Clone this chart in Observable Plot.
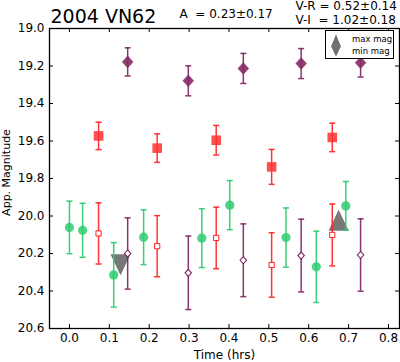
<!DOCTYPE html>
<html><head><meta charset="utf-8">
<script src="https://cdn.jsdelivr.net/npm/d3@7"></script>
<script src="https://cdn.jsdelivr.net/npm/@observablehq/plot@0.6"></script>
<style>
body{margin:0;background:#fff;}
#wrap{position:relative;width:400px;height:362px;font-family:"DejaVu Sans",sans-serif;}
#legend{position:absolute;left:325px;top:30px;width:67px;height:27px;border:1px solid #000;background:#fff;font-size:8.5px;}
#legend span{position:absolute;left:26px;white-space:nowrap;}
</style></head><body><div id="wrap"></div>
<script>
// ---- data ----
const title = "2004 VN62";
const ampText = "A\u00a0 = 0.23\u00b10.17";
const colorTexts = ["V-R = 0.52\u00b10.14", "V-I\u00a0 = 1.02\u00b10.18"];
const xLabel = "Time (hrs)";
const yLabel = "App. Magnitude";
const xTicks = [0.0, 0.1, 0.2, 0.3, 0.4, 0.5, 0.6, 0.7, 0.8];
const yTicks = [19.0, 19.2, 19.4, 19.6, 19.8, 20.0, 20.2, 20.4, 20.6];
const legendLabels = ["max mag", "min mag"];

// purple filled diamonds
const diamondT   = [0.146, 0.298, 0.436, 0.581, 0.730];
const diamondMag = [19.178, 19.279, 19.213, 19.187, 19.183];
const diamondErr = [0.075, 0.080, 0.080, 0.080, 0.076];
// red filled squares
const squareT   = [0.073, 0.220, 0.368, 0.507, 0.659];
const squareMag = [19.573, 19.638, 19.596, 19.738, 19.581];
const squareErr = [0.073, 0.076, 0.079, 0.093, 0.076];
// green circles
const circleT   = [0.000, 0.033, 0.111, 0.186, 0.332, 0.402, 0.543, 0.619, 0.693];
const circleMag = [20.061, 20.076, 20.314, 20.113, 20.118, 19.942, 20.115, 20.271, 19.946];
const circleErr = [0.140, 0.144, 0.172, 0.146, 0.157, 0.131, 0.158, 0.190, 0.130];
// red open squares
const openSqT   = [0.073, 0.220, 0.368, 0.507, 0.659];
const openSqMag = [20.093, 20.161, 20.117, 20.261, 20.101];
const openSqErr = [0.163, 0.163, 0.164, 0.172, 0.165];
// purple open diamonds
const openDT   = [0.146, 0.298, 0.436, 0.581, 0.730];
const openDMag = [20.200, 20.303, 20.236, 20.211, 20.208];
const openDErr = [0.190, 0.196, 0.194, 0.194, 0.193];
// max / min mag triangles
const maxT = [0.675], maxMag = [20.023];
const minT = [0.128], minMag = [20.260];

// ---- helpers ----
const rows = (t, m, e) => t.map((x, i) => ({t: x, mag: m[i], err: e ? e[i] : 0}));
const rad = s => Math.sqrt(s / Math.PI);
const capSym = {draw(c, s){const r = rad(s); c.moveTo(-r, 0); c.lineTo(r, 0);}};
const diamondSym = {draw(c, s){const r = rad(s); c.moveTo(0, -r*1.1); c.lineTo(r, 0); c.lineTo(0, r*1.1); c.lineTo(-r, 0); c.closePath();}};
const squareSym = {draw(c, s){const r = rad(s); c.rect(-r, -r, 2*r, 2*r);}};
const upSym = {draw(c, s){const r = rad(s); c.moveTo(0, -r*1.05); c.lineTo(r, r*1.05); c.lineTo(-r, r*1.05); c.closePath();}};
const downSym = {draw(c, s){const r = rad(s); c.moveTo(0, r*1.05); c.lineTo(r, -r*1.05); c.lineTo(-r, -r*1.05); c.closePath();}};

function errBars(data, color, op) {
  return [
    Plot.ruleX(data, {x: "t", y1: d => d.mag - d.err, y2: d => d.mag + d.err, stroke: color, strokeWidth: 1.5, strokeOpacity: op}),
    Plot.dot(data, {x: "t", y: d => d.mag - d.err, symbol: capSym, r: 3, fill: "none", stroke: color, strokeWidth: 1.5, strokeOpacity: op}),
    Plot.dot(data, {x: "t", y: d => d.mag + d.err, symbol: capSym, r: 3, fill: "none", stroke: color, strokeWidth: 1.5, strokeOpacity: op})
  ];
}

const green = "#2ecc71", red = "#ff1f1f", purple = "#7d1f5e", grey = "#707070";
const diamonds = rows(diamondT, diamondMag, diamondErr);
const squares = rows(squareT, squareMag, squareErr);
const circles = rows(circleT, circleMag, circleErr);
const openSq = rows(openSqT, openSqMag, openSqErr);
const openD = rows(openDT, openDMag, openDErr);

const chart = Plot.plot({
  width: 400, height: 362,
  marginLeft: 49, marginRight: 1, marginTop: 28, marginBottom: 34,
  style: {fontFamily: "DejaVu Sans", background: "white", color: "black", overflow: "visible"},
  x: {domain: [-0.05, 0.8276]},
  y: {domain: [19.0, 20.6], reverse: true},
  marks: [
    Plot.dot(rows(minT, minMag), {x: "t", y: "mag", symbol: downSym, r: 10, fill: grey, fillOpacity: 0.95}),
    Plot.dot(rows(maxT, maxMag), {x: "t", y: "mag", symbol: upSym, r: 10, fill: grey, fillOpacity: 0.95}),
    ...errBars(circles, green, 0.95),
    Plot.dot(circles, {x: "t", y: "mag", r: 4.6, fill: green, fillOpacity: 0.85}),
    ...errBars(openSq, red, 0.9),
    Plot.dot(openSq, {x: "t", y: "mag", symbol: squareSym, r: 2.6, fill: "white", stroke: red, strokeWidth: 1}),
    ...errBars(openD, purple, 0.9),
    Plot.dot(openD, {x: "t", y: "mag", symbol: diamondSym, r: 3.2, fill: "white", stroke: purple, strokeWidth: 1.1}),
    ...errBars(squares, red, 0.9),
    Plot.dot(squares, {x: "t", y: "mag", symbol: squareSym, r: 4.8, fill: "#ff3030", fillOpacity: 0.85}),
    ...errBars(diamonds, purple, 0.9),
    Plot.dot(diamonds, {x: "t", y: "mag", symbol: diamondSym, r: 5.7, fill: "#862a66", fillOpacity: 0.9}),
    // inward ticks on all sides
    Plot.tickX(xTicks, {x: d => d, insetTop: 296, stroke: "black"}),
    Plot.tickX(xTicks, {x: d => d, insetBottom: 296, stroke: "black"}),
    Plot.tickY(yTicks, {y: d => d, insetRight: 346, stroke: "black"}),
    Plot.tickY(yTicks, {y: d => d, insetLeft: 346, stroke: "black"}),
    Plot.frame({stroke: "black", strokeWidth: 1.3}),
    Plot.axisX({ticks: xTicks, tickSize: 0, tickPadding: 5, tickFormat: d3.format(".1f"), label: null, fontSize: 12}),
    Plot.axisY({ticks: yTicks, tickSize: 0, tickPadding: 5, tickFormat: d3.format(".1f"), label: null, fontSize: 12}),
    Plot.text([xLabel], {frameAnchor: "bottom", text: d => d, lineAnchor: "bottom", dy: 30, fontSize: 12}),
    Plot.text([yLabel], {frameAnchor: "left", text: d => d, rotate: -90, lineAnchor: "bottom", textAnchor: "middle", dx: -39.5, dy: -6, fontSize: 11}),
    Plot.text([title], {frameAnchor: "top-left", text: d => d, lineAnchor: "bottom", textAnchor: "start", dx: 1, dy: -5.6, fontSize: 19}),
    Plot.text([ampText], {frameAnchor: "top-left", text: d => d, lineAnchor: "bottom", textAnchor: "start", dx: 130, dy: -11, fontSize: 12}),
    Plot.text([colorTexts[0]], {frameAnchor: "top-left", text: d => d, lineAnchor: "bottom", textAnchor: "start", dx: 246, dy: -19, fontSize: 12}),
    Plot.text([colorTexts[1]], {frameAnchor: "top-left", text: d => d, lineAnchor: "bottom", textAnchor: "start", dx: 246, dy: -5, fontSize: 12})
  ]
});
const wrap = document.getElementById("wrap");
wrap.appendChild(chart);

// legend
const leg = document.createElement("div");
leg.id = "legend";
leg.innerHTML = `<svg width="67" height="27" style="position:absolute;left:0;top:0">
<path d="M10,3.3 L15,15.7 L5,15.7 Z" fill="${grey}"/>
<path d="M10,25.7 L15,15 L5,15 Z" fill="${grey}"/></svg>
<span style="top:2.5px">${legendLabels[0]}</span><span style="top:15px">${legendLabels[1]}</span>`;
wrap.appendChild(leg);
</script>
</body></html>
